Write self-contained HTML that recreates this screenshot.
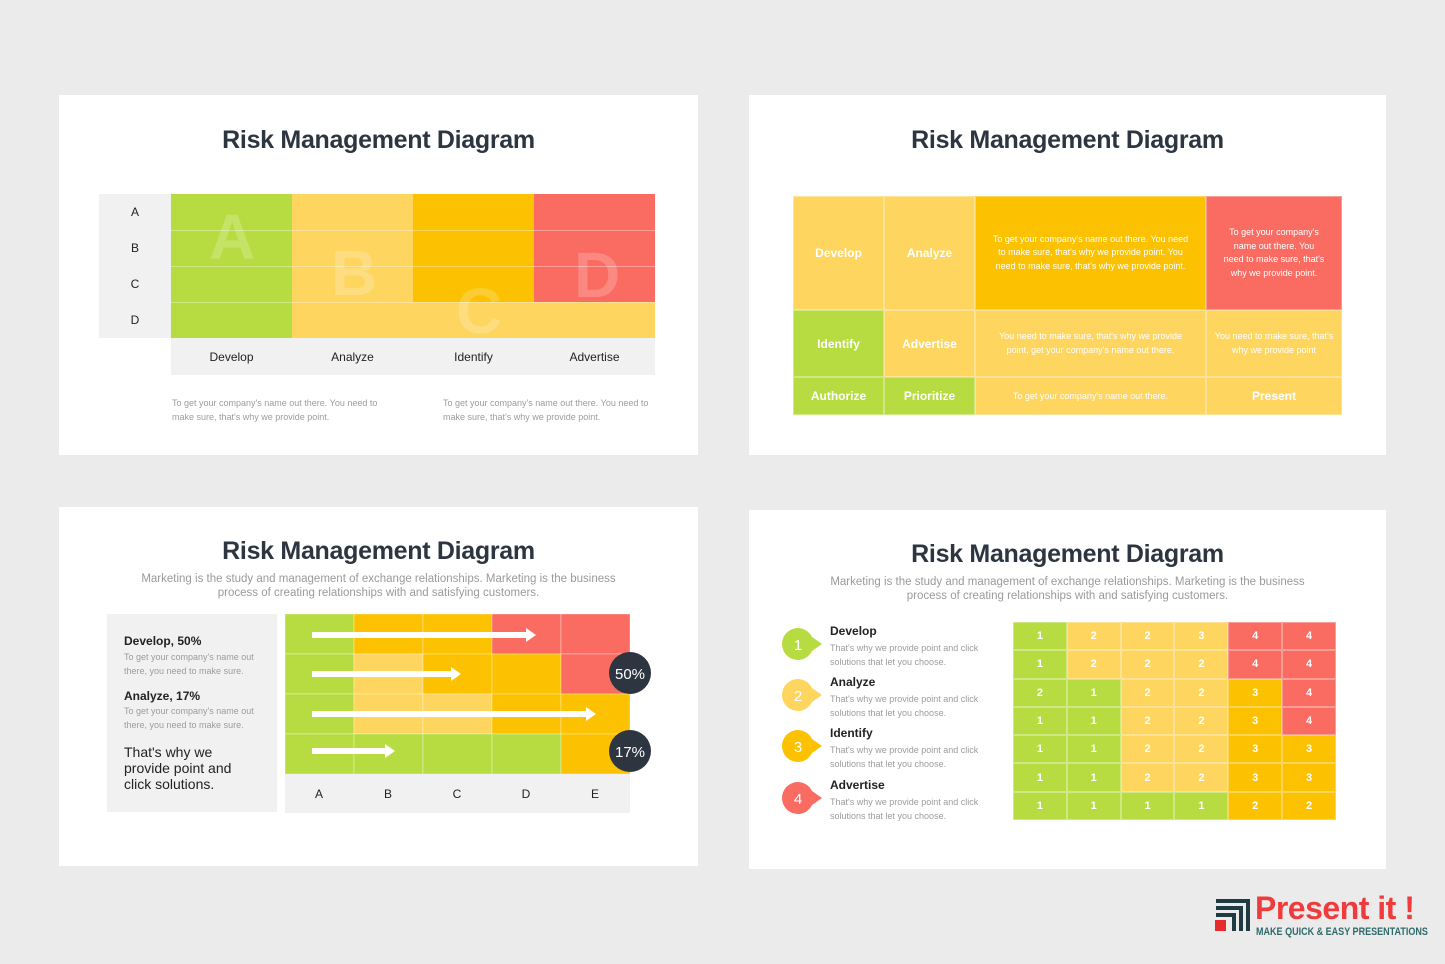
<!DOCTYPE html><html><head><meta charset="utf-8"><style>
*{margin:0;padding:0;box-sizing:border-box}
body{width:1445px;height:964px;background:#ebebeb;position:relative;overflow:hidden;font-family:"Liberation Sans",sans-serif}
.card{position:absolute;background:#fff}
.a{position:absolute}
.t{position:absolute;width:100%;text-align:center;font-weight:bold;font-size:25px;color:#2d3540;letter-spacing:-0.3px}
.sub{position:absolute;width:100%;text-align:center;font-size:11.5px;color:#9a9a9a;line-height:14px}
.G{background:#b6dc41}.L{background:#fdd55f}.O{background:#fcc101}.R{background:#fa6b62}.Y{background:#f1f1f1}
.cell{position:absolute;display:flex;align-items:center;justify-content:center;text-align:center;color:#fff;border:0.5px solid rgba(255,255,255,.35)}
.lab{position:absolute;font-size:12px;color:#222;display:flex;align-items:center;justify-content:center}
.big{position:absolute;font-size:64px;color:rgba(255,255,255,.2);font-weight:bold}
.small{font-size:9px;color:#9c9c9c;line-height:13.5px}
.c{display:flex;align-items:center;justify-content:center;border:0.5px solid rgba(255,255,255,.35)}
</style></head><body>

<!-- TL -->
<div class="card" style="left:59px;top:95px;width:639px;height:360px"></div>
<div class="t" style="left:59px;width:639px;top:126px">Risk Management Diagram</div>
<div class="a Y" style="left:99px;top:194px;width:72px;height:144px"></div>
<div class="lab" style="left:99px;top:194px;width:72px;height:36px">A</div>
<div class="lab" style="left:99px;top:230px;width:72px;height:36px">B</div>
<div class="lab" style="left:99px;top:266px;width:72px;height:36px">C</div>
<div class="lab" style="left:99px;top:302px;width:72px;height:36px">D</div>
<div class="a G" style="left:171px;top:194px;width:121px;height:144px"></div>
<div class="a L" style="left:292px;top:194px;width:121px;height:144px"></div>
<div class="a O" style="left:413px;top:194px;width:121px;height:108px"></div>
<div class="a L" style="left:413px;top:302px;width:242px;height:36px"></div>
<div class="a R" style="left:534px;top:194px;width:121px;height:108px"></div>
<div class="a" style="left:171px;top:230px;width:484px;height:1px;background:rgba(255,255,255,.35)"></div>
<div class="a" style="left:171px;top:266px;width:484px;height:1px;background:rgba(255,255,255,.35)"></div>
<div class="a" style="left:171px;top:302px;width:484px;height:1px;background:rgba(255,255,255,.35)"></div>
<div class="big" style="left:209px;top:200px">A</div>
<div class="big" style="left:331px;top:236px">B</div>
<div class="big" style="left:456px;top:274px">C</div>
<div class="big" style="left:574px;top:238px">D</div>
<div class="a Y" style="left:171px;top:338px;width:484px;height:37px"></div>
<div class="lab" style="left:171px;top:338px;width:121px;height:37px">Develop</div>
<div class="lab" style="left:292px;top:338px;width:121px;height:37px">Analyze</div>
<div class="lab" style="left:413px;top:338px;width:121px;height:37px">Identify</div>
<div class="lab" style="left:534px;top:338px;width:121px;height:37px">Advertise</div>
<div class="a small" style="left:172px;top:397px;width:215px">To get your company's name out there. You need to make sure, that's why we provide point.</div>
<div class="a small" style="left:443px;top:397px;width:215px">To get your company's name out there. You need to make sure, that's why we provide point.</div>

<!-- TR -->
<div class="card" style="left:749px;top:95px;width:637px;height:360px"></div>
<div class="t" style="left:749px;width:637px;top:126px">Risk Management Diagram</div>
<div class="cell L" style="left:793px;top:196px;width:91px;height:114px;font-weight:bold;font-size:12px">Develop</div>
<div class="cell L" style="left:884px;top:196px;width:91px;height:114px;font-weight:bold;font-size:12px">Analyze</div>
<div class="cell O" style="left:975px;top:196px;width:231px;height:114px;font-size:9px;line-height:13.5px;padding:0 12px">To get your company's name out there. You need to make sure, that's why we provide point. You need to make sure, that's why we provide point.</div>
<div class="cell R" style="left:1206px;top:196px;width:136px;height:114px;font-size:9px;line-height:13.5px;padding:0 16px">To get your company's name out there. You need to make sure, that's why we provide point.</div>
<div class="cell G" style="left:793px;top:310px;width:91px;height:67px;font-weight:bold;font-size:12px">Identify</div>
<div class="cell L" style="left:884px;top:310px;width:91px;height:67px;font-weight:bold;font-size:12px">Advertise</div>
<div class="cell L" style="left:975px;top:310px;width:231px;height:67px;font-size:9px;line-height:13.5px;padding:0 22px">You need to make sure, that's why we provide point, get your company's name out there.</div>
<div class="cell L" style="left:1206px;top:310px;width:136px;height:67px;font-size:9px;line-height:13.5px;padding:0 6px">You need to make sure, that's why we provide point</div>
<div class="cell G" style="left:793px;top:377px;width:91px;height:38px;font-weight:bold;font-size:12px">Authorize</div>
<div class="cell G" style="left:884px;top:377px;width:91px;height:38px;font-weight:bold;font-size:12px">Prioritize</div>
<div class="cell L" style="left:975px;top:377px;width:231px;height:38px;font-size:9px">To get your company's name out there.</div>
<div class="cell L" style="left:1206px;top:377px;width:136px;height:38px;font-weight:bold;font-size:12px">Present</div>

<!-- BL -->
<div class="card" style="left:59px;top:507px;width:639px;height:359px"></div>
<div class="t" style="left:59px;width:639px;top:537px">Risk Management Diagram</div>
<div class="sub" style="left:59px;width:639px;top:572px">Marketing is the study and management of exchange relationships. Marketing is the business<br>process of creating relationships with and satisfying customers.</div>
<div class="a Y" style="left:107px;top:614px;width:170px;height:198px"></div>
<div class="a" style="left:124px;top:634px;font-size:12px;font-weight:bold;color:#222">Develop, 50%</div>
<div class="a small" style="left:124px;top:651px;width:140px">To get your company's name out there, you need to make sure.</div>
<div class="a" style="left:124px;top:689px;font-size:12px;font-weight:bold;color:#222">Analyze, 17%</div>
<div class="a small" style="left:124px;top:705px;width:140px">To get your company's name out there, you need to make sure.</div>
<div class="a" style="left:124px;top:744px;font-size:14px;line-height:16px;color:#222;width:130px">That's why we provide point and click solutions.</div>
<svg class="a" style="left:285px;top:614px" width="380" height="200">
<g stroke="rgba(255,255,255,.35)" stroke-width="1">
<rect x="0" y="0" width="69" height="40" fill="#b6dc41"/><rect x="69" y="0" width="69" height="40" fill="#fcc101"/><rect x="138" y="0" width="69" height="40" fill="#fcc101"/><rect x="207" y="0" width="69" height="40" fill="#fa6b62"/><rect x="276" y="0" width="69" height="40" fill="#fa6b62"/>
<rect x="0" y="40" width="69" height="40" fill="#b6dc41"/><rect x="69" y="40" width="69" height="40" fill="#fdd55f"/><rect x="138" y="40" width="69" height="40" fill="#fcc101"/><rect x="207" y="40" width="69" height="40" fill="#fcc101"/><rect x="276" y="40" width="69" height="40" fill="#fa6b62"/>
<rect x="0" y="80" width="69" height="40" fill="#b6dc41"/><rect x="69" y="80" width="69" height="40" fill="#fdd55f"/><rect x="138" y="80" width="69" height="40" fill="#fdd55f"/><rect x="207" y="80" width="69" height="40" fill="#fcc101"/><rect x="276" y="80" width="69" height="40" fill="#fcc101"/>
<rect x="0" y="120" width="69" height="40" fill="#b6dc41"/><rect x="69" y="120" width="69" height="40" fill="#b6dc41"/><rect x="138" y="120" width="69" height="40" fill="#b6dc41"/><rect x="207" y="120" width="69" height="40" fill="#b6dc41"/><rect x="276" y="120" width="69" height="40" fill="#fcc101"/>
<rect x="0" y="160" width="345" height="39" fill="#f1f1f1" stroke="none"/>
</g>
<g fill="#fff">
<rect x="27" y="18" width="216" height="6"/><polygon points="241,14 251,21 241,28"/>
<rect x="27" y="57" width="141" height="6"/><polygon points="166,53 176,60 166,67"/>
<rect x="27" y="97" width="276" height="6"/><polygon points="301,93 311,100 301,107"/>
<rect x="27" y="134" width="75" height="6"/><polygon points="100,130 110,137 100,144"/>
</g>
<g font-size="12" fill="#222" text-anchor="middle"><text x="34" y="184">A</text><text x="103" y="184">B</text><text x="172" y="184">C</text><text x="241" y="184">D</text><text x="310" y="184">E</text></g>
<circle cx="345" cy="59" r="21" fill="#2d3540"/><text x="345" y="65" font-size="15" fill="#fff" text-anchor="middle">50%</text>
<circle cx="345" cy="137" r="21" fill="#2d3540"/><text x="345" y="143" font-size="15" fill="#fff" text-anchor="middle">17%</text>
</svg>

<!-- BR -->
<div class="card" style="left:749px;top:510px;width:637px;height:359px"></div>
<div class="t" style="left:749px;width:637px;top:540px">Risk Management Diagram</div>
<div class="sub" style="left:749px;width:637px;top:575px">Marketing is the study and management of exchange relationships. Marketing is the business<br>process of creating relationships with and satisfying customers.</div>
<svg class="a" style="left:778px;top:620px" width="220" height="210">
<g font-size="15" fill="#fff" text-anchor="middle">
<path d="M20,8 a16,16 0 1,0 0,32 a16,16 0 0,0 14,-9 l10,-7 l-10,-7 a16,16 0 0,0 -14,-9z" fill="#b6dc41"/><text x="20" y="30">1</text>
<path d="M20,59 a16,16 0 1,0 0,32 a16,16 0 0,0 14,-9 l10,-7 l-10,-7 a16,16 0 0,0 -14,-9z" fill="#fdd55f"/><text x="20" y="81">2</text>
<path d="M20,110 a16,16 0 1,0 0,32 a16,16 0 0,0 14,-9 l10,-7 l-10,-7 a16,16 0 0,0 -14,-9z" fill="#fcc101"/><text x="20" y="132">3</text>
<path d="M20,162 a16,16 0 1,0 0,32 a16,16 0 0,0 14,-9 l10,-7 l-10,-7 a16,16 0 0,0 -14,-9z" fill="#fa6b62"/><text x="20" y="184">4</text>
</g></svg>
<div class="a" style="left:830px;top:624px;font-size:12px;color:#222;font-weight:bold">Develop</div>
<div class="a small" style="left:830px;top:642px;width:160px">That's why we provide point and click solutions that let you choose.</div>
<div class="a" style="left:830px;top:675px;font-size:12px;color:#222;font-weight:bold">Analyze</div>
<div class="a small" style="left:830px;top:693px;width:160px">That's why we provide point and click solutions that let you choose.</div>
<div class="a" style="left:830px;top:726px;font-size:12px;color:#222;font-weight:bold">Identify</div>
<div class="a small" style="left:830px;top:744px;width:160px">That's why we provide point and click solutions that let you choose.</div>
<div class="a" style="left:830px;top:778px;font-size:12px;color:#222;font-weight:bold">Advertise</div>
<div class="a small" style="left:830px;top:796px;width:160px">That's why we provide point and click solutions that let you choose.</div>
<div class="a" style="left:1013px;top:622px;width:323px;height:198px;display:grid;grid-template-columns:repeat(6,1fr);grid-template-rows:repeat(7,1fr);font-size:11px;font-weight:bold;color:#fff">
<div class="G c">1</div><div class="L c">2</div><div class="L c">2</div><div class="L c">3</div><div class="R c">4</div><div class="R c">4</div>
<div class="G c">1</div><div class="L c">2</div><div class="L c">2</div><div class="L c">2</div><div class="R c">4</div><div class="R c">4</div>
<div class="G c">2</div><div class="G c">1</div><div class="L c">2</div><div class="L c">2</div><div class="O c">3</div><div class="R c">4</div>
<div class="G c">1</div><div class="G c">1</div><div class="L c">2</div><div class="L c">2</div><div class="O c">3</div><div class="R c">4</div>
<div class="G c">1</div><div class="G c">1</div><div class="L c">2</div><div class="L c">2</div><div class="O c">3</div><div class="O c">3</div>
<div class="G c">1</div><div class="G c">1</div><div class="L c">2</div><div class="L c">2</div><div class="O c">3</div><div class="O c">3</div>
<div class="G c">1</div><div class="G c">1</div><div class="G c">1</div><div class="G c">1</div><div class="O c">2</div><div class="O c">2</div>
</div>

<!-- logo -->
<svg class="a" style="left:1214px;top:897px" width="40" height="36">
<path d="M2,4 H34 V34" fill="none" stroke="#1f3a40" stroke-width="4"/>
<path d="M2,11 H27 V34" fill="none" stroke="#1f3a40" stroke-width="4"/>
<path d="M2,18 H20 V34" fill="none" stroke="#1f3a40" stroke-width="4"/>
<rect x="1" y="23" width="11" height="11" fill="#e52b2b"/>
</svg>
<div class="a" style="left:1255px;top:891px;font-size:32px;font-weight:bold;color:#ef3b3b;letter-spacing:-0.5px;line-height:34px">Present it !</div>
<div class="a" style="left:1256px;top:926px;font-size:11px;font-weight:bold;color:#2f6a6a;transform:scaleX(0.82);transform-origin:left;white-space:nowrap">MAKE QUICK &amp; EASY PRESENTATIONS</div>
</body></html>
